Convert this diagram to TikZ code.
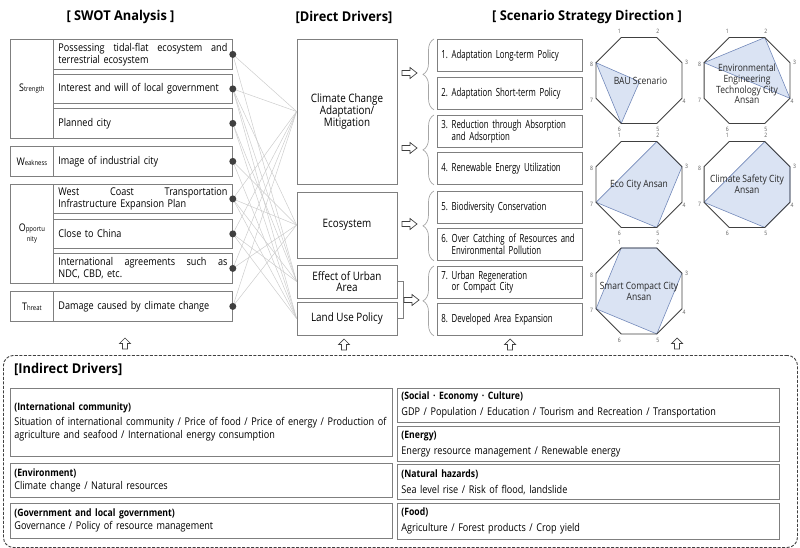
\documentclass[tikz,border=0pt]{standalone}
\usepackage{fontspec}
\setmainfont{Open Sans}[FakeStretch=0.85]
\newfontfamily\condfont{Open Sans}[FakeStretch=0.7]
\newfontfamily\titlefont{Open Sans}[FakeStretch=0.95]
\usetikzlibrary{decorations.pathreplacing}
\definecolor{boxline}{HTML}{7F7F7F}
\definecolor{dotc}{HTML}{3F3F3F}
\definecolor{webc}{HTML}{CDCDCD}
\definecolor{polyfill}{HTML}{DAE3F3}
\definecolor{polyline}{HTML}{7389BA}
\definecolor{octline}{HTML}{404040}
\definecolor{bracec}{HTML}{A6A6A6}
\definecolor{labc}{HTML}{595959}
\newcommand\biglet[1]{{\fontsize{10.5}{12}\selectfont #1}}
\newcommand\smalllet[1]{{\fontsize{7}{8}\selectfont #1}}
\newcommand\jline[2]{\leavevmode\hbox to #1{\spaceskip=0.2em plus 1fil\relax #2}}
\frenchspacing
\begin{document}
\begin{tikzpicture}[x=1pt,y=-1pt,
  box/.style={draw=boxline, line width=0.8pt, inner sep=0pt},
  lab/.style={box, anchor=north west, minimum width=43pt, align=center},
  swt/.style={box, anchor=north west, text width=169pt, inner xsep=5pt, align=left, font=\fontsize{10.7}{12.3}\selectfont},
  dot/.style={circle, fill=dotc, inner sep=0pt, minimum size=7pt},
  web/.style={draw=webc, line width=0.5pt},
  dd/.style={box, align=center, minimum width=100pt, font=\fontsize{11.6}{11.7}\selectfont},
  st/.style={box, anchor=north west, text width=137pt, inner xsep=4pt, align=left, minimum height=32pt, font=\condfont\fontsize{11.2}{11}\selectfont},
  ttl/.style={font=\titlefont\bfseries\fontsize{13.5}{15}\selectfont, inner sep=0pt},
  brc/.style={draw=bracec, line width=0.7pt, decorate, decoration={brace, amplitude=11pt}},
  arrowline/.style={draw=octline, line width=0.7pt, fill=white},
  rarr/.pic={\draw[arrowline] (0,-2.5) -- (8,-2.5) -- (8,-5.5) -- (15,0) -- (8,5.5) -- (8,2.5) -- (0,2.5) -- cycle;},
  uarr/.pic={\draw[arrowline] (-2.5,0) -- (-2.5,-5.5) -- (-5.5,-5.5) -- (0,-11) -- (5.5,-5.5) -- (2.5,-5.5) -- (2.5,0) -- cycle;},
  poly/.style={fill=polyfill, draw=polyline, line width=0.6pt},
  oct/.style={draw=octline, line width=0.9pt},
  vlab/.style={font=\fontsize{6}{6}\selectfont, text=labc, inner sep=0pt},
  otxt/.style={align=center, font=\fontsize{10}{10.8}\selectfont, inner sep=0pt, text=black!85},
  ib/.style={box, anchor=north west, text width=374pt, inner xsep=4pt, align=left, font=\fontsize{10.7}{13}\selectfont},
  frame/.style={draw=octline, line width=0.9pt, dash pattern=on 3pt off 1.5pt, rounded corners=10pt, inner sep=0pt, anchor=north west}
]
\useasboundingbox (0,0) rectangle (800,548);

% titles
\node[ttl] (t1) at (120.5,17) {[ SWOT Analysis ]};
\node[ttl] (t2) at (344,17) {[Direct Drivers]};
\node[ttl] (t3) at (587,17) {[ Scenario Strategy Direction ]};

% SWOT
\node[lab, minimum height=99pt] (Sl) at (10,39) {\biglet{S}\smalllet{trength}};
\node[swt, minimum height=30pt] (S1) at (53,39) {\jline{169pt}{Possessing tidal-flat ecosystem and}\\terrestrial ecosystem};
\node[swt, minimum height=29pt] (S2) at (53,74) {Interest and will of local government};
\node[swt, minimum height=30pt] (S3) at (53,108) {Planned city};
\node[lab, minimum height=30pt] (Wl) at (10,146) {\biglet{W}\smalllet{eakness}};
\node[swt, minimum height=30pt] (W1) at (53,146) {Image of industrial city};
\node[lab, minimum height=99pt] (Ol) at (10,184) {\biglet{O}\smalllet{pportu}\\[-2pt]\smalllet{nity}};
\node[swt, minimum height=29pt] (O1) at (53,184) {\jline{169pt}{West Coast Transportation}\\Infrastructure Expansion Plan};
\node[swt, minimum height=29pt] (O2) at (53,219) {Close to China};
\node[swt, minimum height=30pt] (O3) at (53,253) {\jline{169pt}{International agreements such as}\\NDC, CBD, etc.};
\node[lab, minimum height=30pt] (Tl) at (10,291) {\biglet{T}\smalllet{hreat}};
\node[swt, minimum height=30pt] (T1) at (53,291) {Damage caused by climate change};

% direct drivers
\node[dd, minimum height=145pt] (CC) at (347,111.5) {Climate Change\\Adaptation/\\Mitigation};
\node[dd, minimum height=66pt] (ECO) at (347,225) {Ecosystem};
\node[dd, minimum height=33pt] (EUA) at (347,281.5) {Effect of Urban\\Area};
\node[dd, minimum height=33pt] (LUP) at (347,318.5) {Land Use Policy};

% web of connections
\foreach \s/\t in {S1/CC, S1/EUA, S2/CC, S2/ECO, S2/EUA, S2/LUP, S3/EUA, S3/LUP, W1/ECO, W1/LUP,
  O1/CC, O1/ECO, O1/EUA, O1/LUP, O2/CC, O2/EUA, O2/LUP, O3/CC, O3/ECO, T1/CC, T1/ECO}
  \draw[web] (\s.east) -- (\t.west);
\foreach \s in {S1,S2,S3,W1,O1,O2,O3,T1}
  \node[dot] (d\s) at (\s.east) {};

% strategies
\node[st] (st1) at (437,39) {\mbox{1. Adaptation Long-term Policy}};
\node[st] (st2) at (437,77) {\mbox{2. Adaptation Short-term Policy}};
\node[st] (st3) at (437,115) {\mbox{3. Reduction through Absorption}\\\mbox{\hphantom{3. }and Adsorption}};
\node[st] (st4) at (437,152) {\mbox{4. Renewable Energy Utilization}};
\node[st] (st5) at (437,191) {\mbox{5. Biodiversity Conservation}};
\node[st] (st6) at (437,228) {\mbox{6. Over Catching of Resources and}\\\mbox{\hphantom{6. }Environmental Pollution}};
\node[st] (st7) at (437,266) {\mbox{7. Urban Regeneration}\\\mbox{\hphantom{7. }or Compact City}};
\node[st] (st8) at (437,303) {\mbox{8. Developed Area Expansion}};

\draw[brc] ([xshift=-3pt]st2.south west) -- ([xshift=-3pt]st1.north west);
\draw[brc] ([xshift=-3pt]st4.south west) -- ([xshift=-3pt]st3.north west);
\draw[brc] ([xshift=-3pt]st6.south west) -- ([xshift=-3pt]st5.north west);
\draw[brc] ([xshift=-3pt]st8.south west) -- ([xshift=-3pt]st7.north west);

% bracket and right arrows
\draw[draw=boxline, line width=0.8pt] (EUA.east) -- ++(6,0) |- (LUP.east);
\pic at (402,73) {rarr};
\pic at (402,148) {rarr};
\pic at (402,224) {rarr};
\pic at (404,300) {rarr};

% octagons
\foreach \o/\cx/\cy in {bau/639/80.5, env/747/80.5, eco/639/184.5, cli/747/184.5, sma/639/291}{
  \foreach \k in {1,...,8}{
    \pgfmathsetmacro\ang{-157.5+45*\k}
    \coordinate (\o-\k) at ([shift={(\ang:46.5)}]\cx,\cy);
  }
}
\coordinate (bau-m) at (639.5,81.7);
\filldraw[poly] (bau-8) -- (bau-m) -- (bau-6) -- cycle;
\filldraw[poly] (env-8) -- (env-2) -- (env-4) -- cycle;
\filldraw[poly] (eco-7) -- (eco-2) -- (eco-3) -- (eco-5) -- cycle;
\filldraw[poly] (cli-7) -- (cli-2) -- (cli-3) -- (cli-4) -- (cli-5) -- cycle;
\filldraw[poly] (sma-7) -- (sma-1) -- (sma-2) -- (sma-3) -- (sma-5) -- cycle;
\foreach \o in {bau,env,eco,cli,sma}{
  \draw[oct] (\o-1) -- (\o-2) -- (\o-3) -- (\o-4) -- (\o-5) -- (\o-6) -- (\o-7) -- (\o-8) -- cycle;
  \foreach \k/\dx/\dy in {1/-2/-6, 2/1/-6, 3/4.5/0, 4/2/3.5, 5/1/6, 6/-2/6, 7/-4.5/2, 8/-4.5/2}
    \node[vlab] (\o-l\k) at ([shift={(\dx,\dy)}]\o-\k) {\k};
}
\node[otxt] (bau-t) at (640.5,81) {BAU Scenario};
\node[otxt] (env-t) at (747,84) {Environmental\\Engineering\\Technology City\\Ansan};
\node[otxt] (eco-t) at (639,185) {Eco City Ansan};
\node[otxt] (cli-t) at (747,184.5) {Climate Safety City\\Ansan};
\node[otxt] (sma-t) at (639,291.5) {Smart Compact City\\Ansan};

% up arrows
\pic at (125,349) {uarr};
\pic at (344,350) {uarr};
\pic at (510,350) {uarr};
\pic at (677,349) {uarr};

% indirect drivers
\node[frame, minimum width=794pt, minimum height=192pt] (ind) at (3,355) {};
\node[ttl, anchor=west] (indt) at (14,369) {[Indirect Drivers]};
\node[ib, minimum height=68pt] (i1) at (10,388) {{\bfseries\fontsize{10.2}{12}\selectfont(International community)}\\[2pt]
  \jline{372pt}{Situation of international community / Price of food / Price of energy / Production of}\\
  agriculture and seafood / International energy consumption};
\node[ib, minimum height=34pt] (i2) at (10,463) {{\bfseries\fontsize{10.2}{12}\selectfont(Environment)}\\Climate change / Natural resources};
\node[ib, minimum height=35pt] (i3) at (10,503) {{\bfseries\fontsize{10.2}{12}\selectfont(Government and local government)}\\Governance / Policy of resource management};
\node[ib, minimum height=34pt] (i4) at (397,388) {{\bfseries\fontsize{10.2}{12}\selectfont(Social · Economy · Culture)}\\[3pt]GDP / Population / Education / Tourism and Recreation / Transportation};
\node[ib, minimum height=35pt] (i5) at (397,426) {{\bfseries\fontsize{10.2}{12}\selectfont(Energy)}\\[3pt]Energy resource management / Renewable energy};
\node[ib, minimum height=35pt] (i6) at (397,464) {{\bfseries\fontsize{10.2}{12}\selectfont(Natural hazards)}\\[3pt]Sea level rise / Risk of flood, landslide};
\node[ib, minimum height=36pt] (i7) at (397,503) {{\bfseries\fontsize{10.2}{12}\selectfont(Food)}\\[3pt]Agriculture / Forest products / Crop yield};
\end{tikzpicture}
\end{document}
